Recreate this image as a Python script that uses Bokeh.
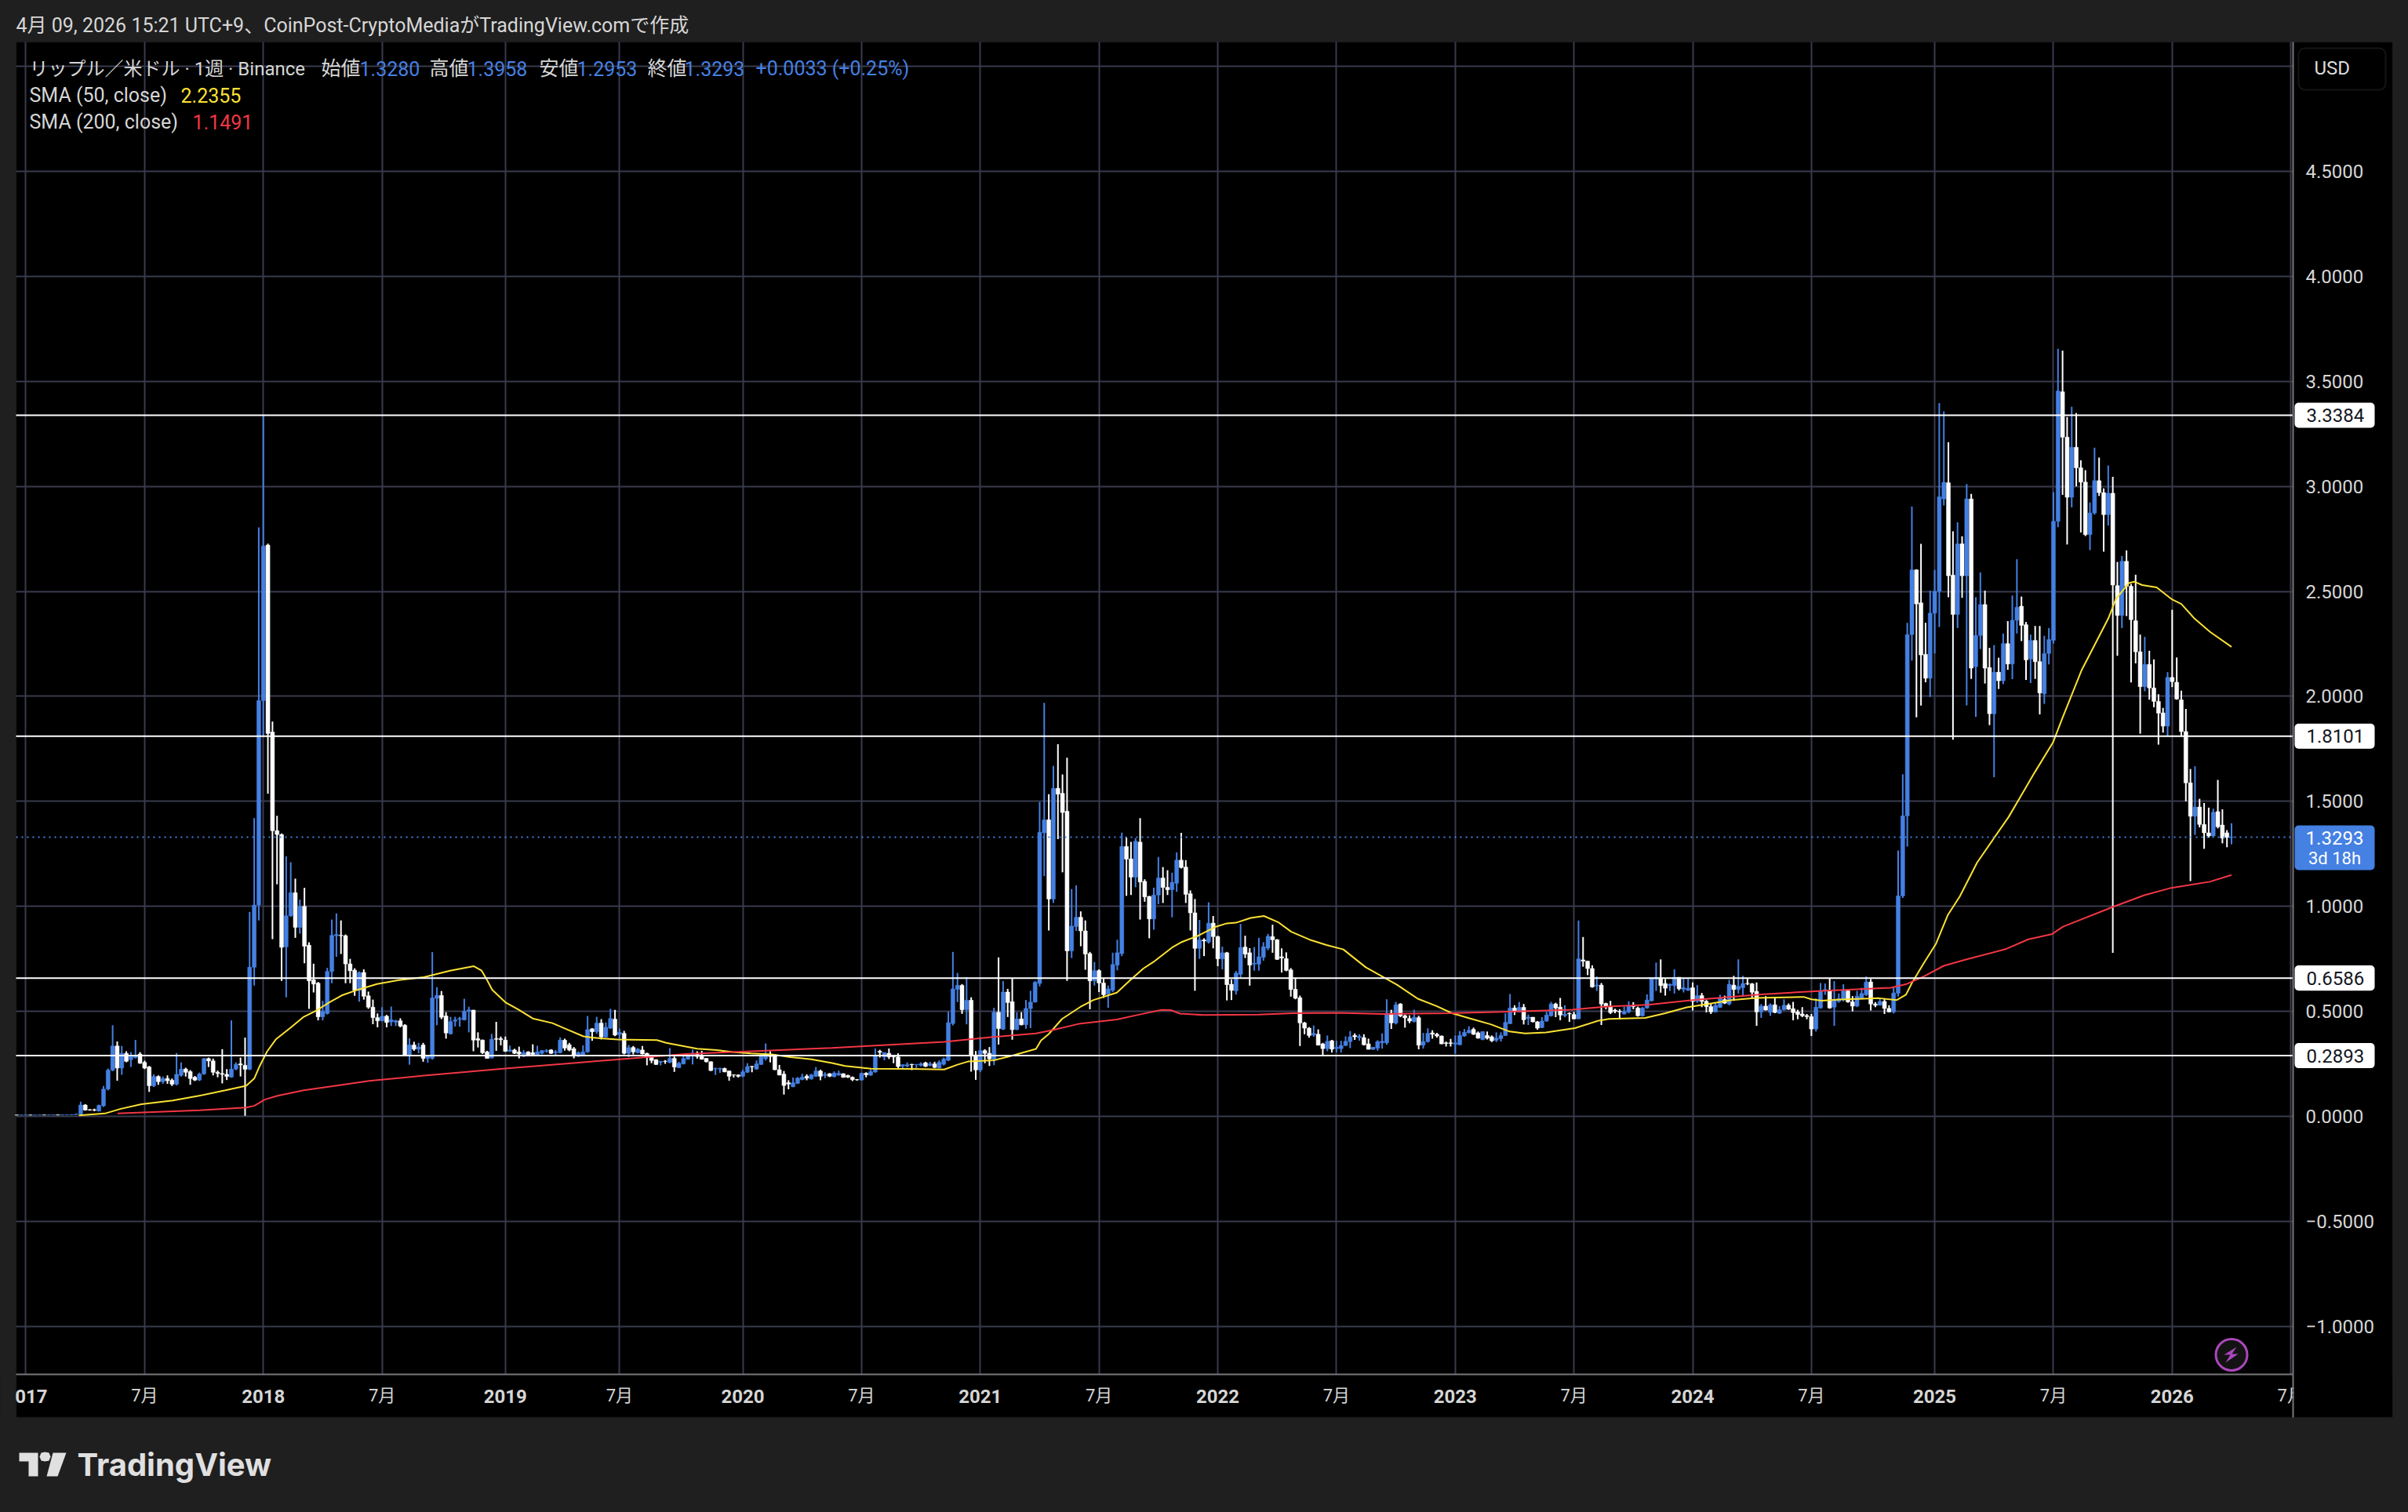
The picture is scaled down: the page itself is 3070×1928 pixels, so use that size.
from bokeh.plotting import figure
from bokeh.embed import file_html
from bokeh.resources import INLINE
from bokeh.models import (BoxAnnotation, ColumnDataSource, FixedTicker, Label,
                          PolyAnnotation)

# Weekly candles as [open, high, low, close], first row is week index -2 (week 0 = first week of 2017)
bars_2017 = [
(.0065,.0072,.0058,.0062),(.0062,.0071,.0058,.0064),(.0064,.0073,.0059,.0066),(.0066,.0074,.006,.0062),(.0062,.007,.0058,.0067),(.0067,.0075,.006,.007),(.007,.0078,.0062,.0066),(.0066,.0073,.006,.007),(.007,.0077,.0063,.0071),(.0071,.008,.0064,.0068),(.0068,.0075,.0062,.0072),(.0072,.0085,.0065,.0076),(.0076,.009,.0066,.0083),(.0083,.012,.008,.0105),
(.0105,.07,.0095,.054),(.054,.058,.027,.03),(.032,.035,.027,.03),(.032,.036,.024,.03),(.025,.056,.023,.052),(.05,.145,.045,.13),(.13,.228,.124,.22),(.22,.434,.215,.335),(.335,.357,.17,.23),(.23,.335,.198,.3),(.3,.31,.258,.262),(.27,.306,.235,.285),(.28,.364,.275,.29),(.297,.306,.25,.253),(.257,.265,.225,.23),(.235,.24,.117,.146),
(.145,.2,.14,.19),(.19,.195,.15,.165),(.165,.19,.155,.18),(.18,.195,.155,.17),(.172,.18,.145,.153),(.153,.302,.148,.2),(.195,.257,.19,.225),(.225,.232,.19,.21),(.213,.22,.15,.18),(.186,.192,.168,.173),(.173,.208,.168,.202),(.202,.278,.198,.275),(.275,.28,.235,.264),(.264,.275,.195,.21),(.21,.218,.186,.204),(.204,.32,.157,.2),(.2,.225,.173,.19),(.187,.457,.184,.225),(.225,.257,.22,.248),(.25,.28,.19,.245),(.243,.375,.0025,.224),(.224,.973,.22,.71),(.71,1.42,.623,1.006),(1.006,2.804,.933,1.98)]
bars_2018 = [
(1.98,3.34,1.808,2.716),(2.72,2.727,1.537,1.823),(1.83,1.88,.844,1.36),(1.36,1.431,1.105,1.342),(1.342,1.347,.645,.805),(.807,1.238,.567,.955),(.955,1.21,.95,1.065),(1.065,1.132,.85,.9),(.9,1.032,.87,1.0),(1.0,1.088,.729,.81),(.815,.829,.512,.645),(.65,.727,.59,.63),(.634,.64,.457,.474),(.474,.55,.457,.5),(.49,.707,.485,.69),(.69,.937,.634,.862),(.86,.966,.76,.866),(.862,.933,.773,.86),(.86,.866,.634,.726),(.726,.75,.634,.693),(.696,.705,.574,.6),(.6,.69,.546,.685),(.685,.7,.556,.572),(.574,.594,.512,.52),(.52,.556,.439,.47),(.47,.49,.424,.455),
(.455,.52,.452,.477),(.477,.483,.424,.447),(.45,.523,.43,.46),(.449,.46,.43,.455),(.455,.467,.424,.43),(.434,.439,.286,.29),(.29,.372,.246,.34),(.34,.355,.312,.32),(.32,.35,.3,.33),(.34,.35,.26,.276),(.276,.29,.255,.285),(.276,.782,.27,.564),(.562,.615,.434,.576),(.576,.597,.463,.472),(.478,.496,.37,.397),(.393,.474,.39,.451),(.453,.474,.428,.459),(.462,.474,.427,.466),(.459,.56,.457,.5),(.5,.522,.4,.507),(.506,.507,.31,.363),(.37,.4,.328,.363),(.363,.366,.297,.303),(.307,.312,.276,.276),(.278,.393,.276,.367),(.37,.45,.312,.367),(.37,.38,.338,.365)]
bars_2019 = [
(.363,.38,.307,.31),(.31,.337,.307,.316),(.316,.322,.297,.3),(.307,.332,.276,.297),(.287,.316,.282,.303),(.307,.31,.288,.291),(.303,.343,.291,.295),(.291,.336,.288,.307),(.3,.316,.295,.313),(.31,.32,.303,.313),(.316,.32,.297,.3),(.303,.316,.291,.307),(.303,.376,.3,.363),(.363,.37,.313,.325),(.341,.35,.31,.316),(.322,.33,.276,.287),(.293,.31,.282,.303),(.291,.338,.288,.307),(.307,.478,.303,.413),(.417,.42,.36,.403),(.403,.474,.393,.444),(.444,.463,.366,.378),(.378,.447,.375,.424),(.42,.512,.416,.466),(.463,.507,.382,.387),
(.39,.418,.366,.4),(.395,.407,.295,.3),(.3,.34,.282,.327),(.328,.335,.295,.307),(.303,.325,.3,.32),(.316,.335,.295,.297),(.3,.303,.243,.282),(.285,.287,.253,.266),(.27,.272,.245,.247),(.258,.264,.243,.262),(.263,.268,.25,.262),(.257,.325,.253,.276),(.276,.285,.212,.235),(.232,.26,.23,.253),(.25,.287,.247,.275),(.272,.3,.27,.295),(.295,.318,.247,.3),(.295,.31,.275,.285),(.285,.312,.27,.272),(.276,.278,.257,.26),(.26,.262,.216,.218),(.226,.232,.197,.228),(.225,.232,.207,.228),(.228,.232,.21,.212),(.216,.218,.17,.191),(.198,.2,.185,.197),(.197,.2,.185,.191)]
bars_2020 = [
(.191,.222,.187,.212),(.21,.253,.207,.237),(.238,.24,.21,.236),(.225,.266,.222,.25),(.247,.29,.245,.285),(.275,.347,.266,.29),(.29,.31,.257,.285),(.288,.297,.22,.222),(.222,.245,.195,.197),(.201,.216,.104,.147),(.16,.172,.129,.154),(.141,.185,.139,.16),(.157,.187,.154,.182),(.175,.203,.172,.187),(.191,.2,.172,.182),(.178,.203,.175,.197),(.191,.235,.187,.216),(.216,.222,.172,.191),(.195,.21,.182,.2),(.203,.206,.187,.191),(.189,.214,.186,.206),(.197,.218,.193,.205),(.203,.205,.184,.186),(.195,.198,.183,.186),(.186,.19,.168,.175),(.175,.178,.17,.174),
(.173,.208,.17,.205),(.205,.21,.186,.198),(.196,.223,.193,.213),(.211,.323,.208,.286),(.31,.317,.28,.305),(.283,.304,.267,.304),(.3,.323,.273,.283),(.287,.29,.253,.283),(.283,.3,.23,.237),(.24,.247,.23,.246),(.24,.257,.233,.246),(.248,.25,.22,.246),(.246,.248,.23,.248),(.243,.257,.238,.25),(.255,.26,.235,.238),(.243,.26,.238,.25),(.25,.26,.23,.233),(.23,.267,.23,.258),(.248,.28,.242,.273),(.267,.498,.263,.446),(.442,.783,.433,.607),(.605,.683,.544,.624),(.624,.63,.488,.508),(.508,.663,.438,.553),(.553,.567,.213,.287),(.292,.311,.174,.221)]
bars_2021 = [
(.221,.378,.211,.313),(.313,.32,.253,.3),(.3,.33,.24,.274),(.271,.517,.244,.496),(.496,.757,.342,.418),(.415,.644,.411,.592),(.592,.607,.473,.542),(.546,.657,.365,.413),(.413,.496,.411,.464),(.464,.496,.433,.436),(.436,.554,.417,.514),(.513,.598,.42,.544),(.544,.645,.542,.638),(.633,1.497,.619,1.353),(1.35,1.969,1.144,1.412),(1.412,1.534,.885,1.035),(1.035,1.669,1.016,1.562),(1.562,1.772,1.32,1.534),(1.538,1.628,1.162,1.447),(1.453,1.707,.645,.788),(.788,1.082,.754,.906),(.904,1.1,.883,.948),(.948,.976,.81,.883),(.883,.933,.698,.773),(.775,.783,.51,.645),(.645,.735,.623,.694),
(.694,.7,.592,.635),(.635,.657,.564,.579),(.583,.623,.517,.607),(.6,.779,.592,.723),(.72,.841,.695,.779),(.775,1.351,.763,1.285),(1.285,1.328,1.05,1.225),(1.226,1.307,1.054,1.139),(1.139,1.325,1.091,1.31),(1.306,1.42,.937,1.116),(1.119,1.129,1.022,1.045),(1.047,1.05,.848,.94),(.94,1.089,.889,1.054),(1.054,1.235,1.01,1.135),(1.135,1.187,1.016,1.09),(1.09,1.172,1.054,1.079),(1.079,1.16,.948,1.114),(1.11,1.257,1.069,1.22),(1.22,1.35,1.18,1.185),(1.187,1.22,1.016,1.057),(1.06,1.076,.885,.969),(.969,1.035,.598,.8),(.8,.935,.75,.84),(.84,.848,.763,.835),(.83,1.019,.823,.92),(.92,.954,.8,.856)]
bars_2022 = [
(.856,.86,.715,.75),(.75,.808,.7,.779),(.779,.783,.552,.627),(.629,.652,.554,.6),(.598,.692,.58,.682),(.676,.916,.66,.804),(.806,.86,.754,.7725),(.779,.801,.6225,.72),(.725,.806,.694,.729),(.725,.85,.694,.76),(.7575,.829,.741,.8075),(.801,.869,.791,.8575),(.856,.9125,.779,.841),(.841,.844,.745,.7475),(.76,.8,.685,.754),(.751,.781,.691,.695),(.6975,.706,.57,.604),(.605,.656,.5575,.5625),(.565,.575,.335,.445),(.445,.45,.391,.42),(.42,.425,.375,.385),(.3875,.4325,.379,.395),(.391,.414,.3375,.339),(.345,.35,.289,.3225),(.3225,.385,.31,.3575),(.36,.364,.304,.32),
(.3225,.36,.304,.329),(.3225,.36,.304,.3375),(.3375,.381,.335,.3575),(.356,.406,.325,.379),(.385,.395,.364,.379),(.375,.391,.36,.381),(.375,.391,.3375,.341),(.345,.37,.319,.319),(.319,.331,.316,.329),(.325,.3625,.3125,.356),(.35,.395,.3225,.3575),(.35,.5575,.341,.491),(.491,.5075,.416,.445),(.444,.545,.4375,.531),(.535,.539,.4725,.479),(.479,.485,.4225,.469),(.466,.481,.444,.454),(.451,.5075,.4475,.4725),(.47,.479,.319,.339),(.339,.3975,.3225,.356),(.356,.419,.351,.395),(.3975,.41,.37,.391),(.391,.3975,.375,.3825),(.3825,.385,.344,.345),(.35,.356,.3325,.347),(.35,.369,.3325,.347)]
bars_2023 = [
(.344,.385,.2975,.35),(.341,.406,.339,.385),(.3825,.416,.379,.4),(.3975,.429,.395,.41),(.414,.4225,.3875,.391),(.3975,.404,.37,.3725),(.366,.404,.3625,.404),(.385,.404,.366,.3725),(.379,.385,.354,.36),(.3625,.4,.354,.3725),(.37,.4,.356,.385),(.385,.491,.3825,.4475),(.441,.5825,.441,.516),(.516,.529,.4825,.5),(.4975,.545,.495,.519),(.519,.535,.4375,.46),(.466,.485,.435,.4725),(.4725,.4725,.4475,.45),(.45,.454,.4125,.42),(.4225,.4725,.42,.454),(.454,.4975,.45,.4825),(.479,.545,.475,.535),(.535,.541,.4725,.516),(.52,.564,.4575,.4825),(.48,.529,.4725,.486),(.49,.495,.45,.4875),
(.485,.4975,.4625,.464),(.464,.9325,.464,.75),(.745,.854,.7125,.739),(.739,.741,.6725,.704),(.704,.719,.6125,.616),(.621,.666,.5975,.625),(.625,.635,.435,.535),(.5375,.541,.51,.5225),(.5225,.55,.4875,.494),(.506,.5125,.491,.5),(.5,.51,.4625,.4975),(.4875,.5225,.485,.5),(.4975,.5475,.491,.525),(.5275,.544,.51,.5225),(.516,.5225,.475,.479),(.479,.52,.475,.516),(.516,.581,.5125,.554),(.55,.6625,.5475,.66),(.654,.7325,.5975,.6625),(.66,.7475,.589,.6225),(.6325,.654,.575,.61),(.6225,.6325,.5975,.629),(.6225,.7,.585,.6625),(.6625,.6625,.6,.6075),(.605,.655,.59,.6125),(.6,.6575,.5975,.61)]
bars_2024 = [
(.6125,.6375,.504,.5475),(.5475,.625,.541,.575),(.575,.5875,.52,.5475),(.5475,.554,.495,.5225),(.5225,.5375,.4875,.4975),(.4975,.541,.495,.529),(.519,.579,.516,.5625),(.556,.575,.535,.539),(.535,.65,.529,.629),(.625,.669,.55,.604),(.604,.7475,.585,.619),(.6125,.669,.57,.6325),(.633,.656,.625,.632),(.631,.635,.566,.591),(.595,.6375,.431,.4975),(.4975,.535,.469,.525),(.525,.5725,.504,.506),(.495,.5375,.479,.531),(.531,.566,.491,.495),(.491,.525,.4875,.5075),(.5075,.5575,.504,.529),(.529,.5375,.5075,.51),(.5125,.545,.4575,.494),(.4975,.5075,.4625,.485),(.4875,.52,.4725,.479),(.48,.4875,.4625,.475),
(.475,.4875,.3825,.416),(.416,.5625,.404,.52),(.516,.635,.5125,.5975),(.5975,.6325,.579,.604),(.601,.656,.5125,.516),(.52,.644,.431,.554),(.5475,.585,.541,.56),(.556,.629,.5475,.5975),(.5975,.6,.541,.545),(.545,.5725,.5,.525),(.525,.5975,.52,.5725),(.5625,.6125,.5575,.585),(.579,.666,.5725,.64),(.64,.654,.504,.535),(.535,.544,.52,.529),(.529,.5625,.529,.547),(.547,.5625,.4875,.514),(.514,.529,.495,.4975),(.4975,.616,.49,.5875),(.586,1.266,.571,1.05),(1.05,1.629,1.04,1.431),(1.431,2.35,1.285,2.294),(2.294,2.904,2.17,2.602),(2.602,2.605,1.9,2.44),(2.445,2.726,1.956,2.197),(2.2,2.35,2.067,2.086),(2.086,2.503,1.997,2.396)]
bars_2025 = [
(2.396,2.602,2.204,2.5),(2.5,3.396,2.33,2.95),(2.94,3.357,2.909,3.019),(3.017,3.21,2.472,2.574),(2.577,2.786,1.793,2.39),(2.39,2.829,2.325,2.726),(2.726,2.762,2.469,2.574),(2.574,3.011,1.957,2.94),(2.94,2.964,2.083,2.134),(2.141,2.472,1.902,2.29),(2.29,2.59,2.225,2.437),(2.437,2.503,2.061,2.134),(2.137,2.231,1.863,1.917),(1.917,2.244,1.615,2.115),(2.115,2.184,2.035,2.074),(2.074,2.299,2.058,2.251),(2.251,2.358,2.126,2.154),(2.154,2.48,2.082,2.362),(2.362,2.653,2.299,2.424),(2.429,2.475,2.263,2.338),(2.341,2.354,2.078,2.173),(2.178,2.294,2.063,2.266),(2.266,2.335,2.083,2.165),(2.165,2.335,1.914,2.016),(2.012,2.288,1.964,2.204),(2.204,2.325,2.152,2.27),
(2.267,2.972,2.251,2.833),(2.833,3.655,2.805,3.454),(3.45,3.646,2.959,3.234),(3.234,3.33,2.723,2.948),(2.948,3.379,2.9,3.186),(3.186,3.349,3.0,3.088),(3.088,3.124,2.78,3.02),(3.02,3.077,2.763,2.77),(2.77,2.923,2.696,2.873),(2.873,3.184,2.865,3.027),(3.027,3.137,2.954,2.97),(2.97,2.99,2.689,2.865),(2.865,3.099,2.813,2.967),(2.967,3.045,.779,2.53),(2.527,2.64,2.193,2.385),(2.385,2.668,2.325,2.643),(2.643,2.695,2.382,2.524),(2.524,2.535,2.066,2.365),(2.36,2.579,2.157,2.212),(2.212,2.294,1.822,2.046),(2.046,2.283,2.024,2.152),(2.152,2.217,1.984,2.04),(2.04,2.176,1.948,1.976),(1.976,2.01,1.77,1.92),(1.921,1.945,1.827,1.858),(1.858,2.115,1.81,2.09)]
bars_2026 = [
(2.09,2.412,2.044,2.07),(2.067,2.185,1.984,1.987),(1.983,2.027,1.81,1.832),(1.832,1.94,1.5,1.588),(1.588,1.654,1.12,1.429),(1.429,1.667,1.34,1.473),(1.473,1.512,1.376,1.39),(1.39,1.492,1.274,1.35),(1.35,1.47,1.327,1.335),(1.335,1.465,1.332,1.448),(1.451,1.602,1.371,1.379),(1.387,1.462,1.3,1.325),(1.35,1.363,1.2815,1.328),(1.328,1.3958,1.2953,1.3293)]

sma50_weeks = [11.6,17.3,20.8,25.3,32.2,37.9,43.7,48.25,50,51.1,52.8,54.8,58,60.85,63.7,66.6,69.4,72.3,76.9,82,87.2,92.9,98.1,99.8,100.9,102.1,105,107.8,111,115.3,118.7,122.1,123.9,129.6,138.2,140.2,144.5,147,151.3,154.8,158.8,163.4,167.4,172,176.5,179.4,185.1,193.7,201.1,204,206.3,212,215.4,221.2,222.3,224,226.9,230.9,233.8,238.9,241.8,244.7,246.9,251,253.2,256.7,260.7,263,265,268.2,271.1,274.2,277.1,281.4,284.8,288.5,293.4,300.3,304.8,308.9,312.3,316.3,320.9,324.9,328.3,332.9,339.2,344.4,346.7,354.6,359,363.7,368.3,373.5,378.8,389.3,391,393.3,397.2,402.5,405.8,409.7,411.7,413,415.6,418.3,420.9,423.5,427.3,434.2,439.9,443.9,446,450.2,456,457.7,460.5,461.7,463.4,466.6,470,472,474.9,478.3,483]
sma50_values = [.005,.0137,.036,.058,.076,.098,.124,.146,.18,.235,.308,.368,.423,.474,.505,.545,.578,.6,.63,.65,.663,.694,.715,.694,.653,.603,.543,.509,.466,.444,.412,.381,.375,.366,.363,.35,.332,.322,.316,.306,.3,.295,.282,.272,.254,.24,.227,.226,.223,.246,.261,.267,.286,.321,.361,.392,.464,.521,.554,.589,.648,.704,.735,.804,.831,.86,.904,.919,.922,.945,.954,.925,.879,.839,.816,.795,.71,.626,.56,.525,.491,.466,.4375,.404,.395,.4,.42,.456,.464,.469,.491,.519,.535,.554,.564,.569,.5575,.551,.556,.56,.5625,.554,.579,.635,.729,.8225,.96,1.0475,1.209,1.426,1.638,1.78,1.898,2.126,2.37,2.464,2.539,2.546,2.53,2.519,2.461,2.44,2.37,2.307,2.2355]
sma200_weeks = [20.1,38,48.25,50,52.3,55.1,60.85,66.6,75.2,87.2,105,121.6,135.9,144.5,155.9,176.5,201.1,211.4,221.2,225.2,230.9,238.9,244.1,248.7,250.7,252.7,257.8,264.1,269.9,277.4,287.1,297.4,311.7,323.2,338.6,346.1,355.2,365,380.1,393.3,408.4,411.7,415.6,420,425,433.5,438.5,443.6,446.1,457.1,463.9,469.8,478.2,483]
sma200_values = [.0137,.029,.042,.05,.08,.098,.124,.142,.169,.194,.228,.257,.282,.297,.307,.326,.355,.377,.395,.413,.442,.461,.486,.507,.506,.489,.483,.484,.485,.491,.4925,.4875,.491,.4975,.5075,.5225,.531,.554,.581,.5975,.6125,.629,.666,.717,.748,.796,.843,.867,.903,.998,1.053,1.088,1.117,1.1491]

year_ticks = [0,52,105,157,209,261,313,365,418,470]
year_labels = ["2017","2018","2019","2020","2021","2022","2023","2024","2025","2026"]
month_ticks = [26,78,130,183,235,287,339,391,444,496]
month_label = "7月"
price_ticks = [-1.0,-0.5,0.0,0.5,1.0,1.5,2.0,2.5,3.0,3.5,4.0,4.5]
price_labels = ["−1.0000","−0.5000","0.0000","0.5000","1.0000","1.5000","2.0000","2.5000","3.0000","3.5000","4.0000","4.5000"]
levels = [3.3384,1.8101,0.6586,0.2893]
level_labels = ["3.3384","1.8101","0.6586","0.2893"]
last_close = 1.3293

BG = "#1f1f1f"; BLUE = "#4580e3"; GRID = "#383b4d"; EDGE = "#787878"; TXT = "#d6d6d6"
LATIN = "Roboto, 'Noto Sans CJK JP', sans-serif"
X0, X1, Y0, Y1 = -2.147, 496.47, -1.2285, 5.116   # the chart pane in data units

rows = bars_2017+bars_2018+bars_2019+bars_2020+bars_2021+bars_2022+bars_2023+bars_2024+bars_2025+bars_2026
weeks = list(range(-2, len(rows)-2))
assert weeks[-1] == 483, weeks[-1]
opens = [r[0] for r in rows]; highs = [r[1] for r in rows]; lows = [r[2] for r in rows]; closes = [r[3] for r in rows]
src = ColumnDataSource(dict(
    x=weeks, o=opens, h=highs, l=lows, c=closes,
    top=[max(a,b) for a,b in zip(opens,closes)], bottom=[min(a,b) for a,b in zip(opens,closes)],
    color=[BLUE if b>=a else "#ffffff" for a,b in zip(opens,closes)]))

# The frame fills the whole canvas: annotations are clipped to the frame
p = figure(width=3070, height=1928, output_backend="svg", toolbar_location=None,
           x_range=(-5.582,521.73), y_range=(-1.8857,5.3137), y_axis_location="right",
           min_border=0, background_fill_color=BG, border_fill_color=BG)
p.outline_line_color = None

p.xgrid.ticker = FixedTicker(ticks=sorted(year_ticks+month_ticks))
p.ygrid.ticker = FixedTicker(ticks=price_ticks+[5.0])
p.xgrid.cross_bounds = (Y0, Y1)
p.ygrid.cross_bounds = (X0, X1)
for g in (p.xgrid, p.ygrid):
    g.grid_line_color = GRID; g.grid_line_width = 2

xa = p.xaxis[0]
xa.fixed_location = Y0
xa.bounds = (X0, X1)
xa.ticker = FixedTicker(ticks=year_ticks)
xa.major_label_overrides = dict(zip(year_ticks, year_labels))
xa.major_label_text_font = LATIN; xa.major_label_text_font_style = "bold"
xa.major_label_text_font_size = "24px"; xa.major_label_text_color = TXT
xa.major_label_standoff = 13
ya = p.yaxis[0]
ya.fixed_location = X1
ya.bounds = (Y0, Y1)
ya.ticker = FixedTicker(ticks=price_ticks)
ya.major_label_overrides = dict(zip(price_ticks, price_labels))
ya.major_label_text_font = LATIN; ya.major_label_text_font_size = "24px"; ya.major_label_text_color = TXT
ya.major_label_standoff = 10
for a in (xa, ya):
    a.axis_line_color = EDGE; a.axis_line_width = 2
    a.major_tick_line_color = None; a.minor_tick_line_color = None

def box(l,r,t,b,fill,level="annotation",line=None,lw=1,radius=0):
    p.add_layout(BoxAnnotation(left=l,right=r,top=t,bottom=b,
        left_units="canvas",right_units="canvas",top_units="canvas",bottom_units="canvas",
        fill_color=fill,fill_alpha=1,line_color=line,line_width=lw,border_radius=radius,level=level,
        editable=False))

def text(x,y,s,color=TXT,size=24,font=LATIN,align="left",style="normal"):
    p.add_layout(Label(x=x,y=y,x_units="canvas",y_units="canvas",text=s,text_color=color,
        text_font_size=f"{size}px",text_font=font,text_align=align,text_baseline="middle",text_font_style=style))

# black chart panel behind everything
box(20,3050,53,1807,"#000000",level="image",line="#2c2c2c",lw=2)

# candles
p.segment("x","h","x","l",source=src,color="color",line_width=2)
p.vbar("x",0.86,"top","bottom",source=src,fill_color="color",line_color="color",line_width=0.5)

# moving averages
p.line(sma50_weeks,sma50_values,line_color="#fbe233",line_width=2)
p.line(sma200_weeks,sma200_values,line_color="#f23645",line_width=2)

# horizontal levels and last price
p.segment([X0],[last_close],[X1],[last_close],line_color=BLUE,line_width=2,line_dash="2 5")
p.segment([X0]*len(levels),levels,[X1]*len(levels),levels,line_color="#ffffff",line_width=2)

# month labels on the time axis
for w in month_ticks:
    p.add_layout(Label(x=w,y=1779,x_units="data",y_units="canvas",text=month_label,text_color=TXT,
        text_font_size="22px",text_font=LATIN,text_align="center",text_baseline="middle"))

# clip the time labels at both ends, right border of the price scale
box(0,19,1755,1805,BG,level="overlay")
box(2924,3049,1754,1806,"#000000",level="overlay")
box(2922,2924,1752,1807,EDGE,level="overlay")

# price-scale tags
for v,s in zip(levels,level_labels):
    p.add_layout(BoxAnnotation(left=2925,right=3027,left_units="canvas",right_units="canvas",
        top=v+0.06,bottom=v-0.06,fill_color="#ffffff",fill_alpha=1,line_color=None,border_radius=5))
    p.add_layout(Label(x=2940,y=v,x_units="canvas",y_units="data",text=s,text_color="#131722",
        text_font_size="24px",text_font=LATIN,text_baseline="middle"))
box(2925,3027,1052,1109,BLUE,radius=5)
text(2976,1068,"1.3293",color="#ffffff",align="center")
text(2976,1094,"3d 18h",color="#ffffff",align="center",size=22)
box(2930,3041,61,114,"#000000",line="#444444",lw=2,radius=8)
text(2950,86,"USD",color="#dcdcdc")

# header and legend
text(20,32,"4月 09, 2026 15:21 UTC+9、CoinPost-CryptoMediaがTradingView.comで作成",size=25)
text(37,87,"リップル／米ドル · 1週 · Binance",size=24)
for x,s in [(409,"始値"),(547,"高値"),(687,"安値"),(825,"終値")]:
    text(x,87,s,size=25)
for x,s in [(458,"1.3280"),(595,"1.3958"),(735,"1.2953"),(872,"1.3293"),(963,"+0.0033 (+0.25%)")]:
    text(x,87,s,color=BLUE,size=25)
text(37,121,"SMA (50, close)",size=25); text(230,121,"2.2355",color="#fbe233",size=25)
text(37,155,"SMA (200, close)",size=25); text(245,155,"1.1491",color="#f23645",size=25)

# TradingView logo
LOGO = "#e0e0e0"
for xs,ys in [([24,48,48,36,36,24],[1852,1852,1882,1882,1863,1863]),
              ([67,84,73,59],[1852,1852,1882,1882]),
              ([52,57,62,64,62,57,52,50],[1852,1851,1852,1857,1862,1863,1862,1857])]:
    p.add_layout(PolyAnnotation(xs=xs,ys=ys,xs_units="canvas",ys_units="canvas",
        fill_color=LOGO,fill_alpha=1,line_color=None,editable=False))
text(98,1867,"TradingView",color=LOGO,size=40,font="Inter",style="bold")

# lightning badge
p.scatter([483],[-1.135],size=40,marker="circle",fill_color="#131313",line_color="#ab47bc",line_width=3)
p.add_layout(PolyAnnotation(xs=[2851,2835,2843,2837,2853,2845],ys=[1717,1727,1727,1737,1726,1726],
    xs_units="canvas",ys_units="canvas",fill_color="#ab47bc",fill_alpha=1,line_color=None,editable=False))

html = file_html(p, INLINE).replace("<body>", '<body style="background:#1f1f1f;overflow:hidden">')
open("out.html","w").write(html)
